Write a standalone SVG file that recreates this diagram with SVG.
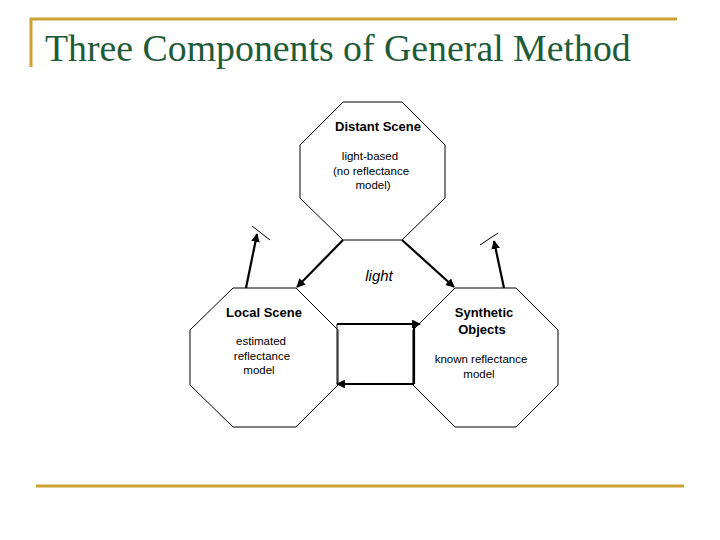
<svg xmlns="http://www.w3.org/2000/svg" width="720" height="540" viewBox="0 0 720 540">
<defs>
<marker id="ah" viewBox="0 0 10 10" refX="9" refY="5" markerWidth="4" markerHeight="4" orient="auto"><path d="M0,0L10,5L0,10z" fill="#000"/></marker>
<style>
.oct{fill:#fff;stroke:#000;stroke-width:1}
.t{font-family:"Liberation Sans",Arial,sans-serif;fill:#000;text-anchor:middle}
.b{font-size:13px;font-weight:bold}
.s{font-size:11.5px}
.c{stroke:#000;stroke-width:2.2;fill:none}
.thin{stroke:#000;stroke-width:1;fill:none}
</style>
</defs>
<rect width="720" height="540" fill="#fff"/>
<path d="M31,67V19H677" fill="none" stroke="#c9a232" stroke-width="3"/>
<line x1="36" y1="486" x2="684" y2="486" stroke="#c9a232" stroke-width="3"/>
<text x="45" y="61" font-family="Liberation Serif,serif" font-size="37.8" fill="#1e5b38">Three Components of General Method</text>
<g id="distant">
<polygon class="oct" points="343,102 402,102 445,145 445,198 402,240 343,240 300,198 300,145"/>
<text class="t b" x="378" y="131">Distant Scene</text>
<text class="t s" x="370" y="160">light-based</text>
<text class="t s" x="371" y="175">(no reflectance</text>
<text class="t s" x="373" y="189">model)</text>
</g>
<g id="local">
<polygon class="oct" points="233,288 296,288 338,330 338,385 296,427 233,427 190,385 190,330"/>
<text class="t b" x="264" y="317">Local Scene</text>
<text class="t s" x="261" y="345">estimated</text>
<text class="t s" x="262" y="360">reflectance</text>
<text class="t s" x="259" y="374">model</text>
</g>
<g id="synthetic">
<polygon class="oct" points="455,288 516,288 558,330 558,385 516,427 455,427 413,385 413,330"/>
<text class="t b" x="484" y="317">Synthetic</text>
<text class="t b" x="482" y="334">Objects</text>
<text class="t s" x="481" y="363">known reflectance</text>
<text class="t s" x="479" y="378">model</text>
</g>
<text class="t" x="379" y="281" font-size="15" font-style="italic">light</text>
<g id="connectors">
<line class="c" x1="343" y1="240" x2="297" y2="287" marker-end="url(#ah)"/>
<line class="c" x1="402" y1="240" x2="454" y2="287" marker-end="url(#ah)"/>
<line class="c" x1="246" y1="288" x2="257" y2="234" marker-end="url(#ah)"/>
<line class="thin" x1="252" y1="226" x2="270" y2="240"/>
<line class="c" x1="504" y1="288" x2="494" y2="241" marker-end="url(#ah)"/>
<line class="thin" x1="480" y1="245" x2="498" y2="233"/>
<line class="c" x1="337" y1="324" x2="420" y2="324" marker-end="url(#ah)"/>
<line class="c" x1="414" y1="324" x2="414" y2="384"/>
<line class="c" x1="414" y1="384" x2="337" y2="384" marker-end="url(#ah)"/>
<line class="thin" x1="337" y1="324" x2="337" y2="384"/>
</g>
</svg>
